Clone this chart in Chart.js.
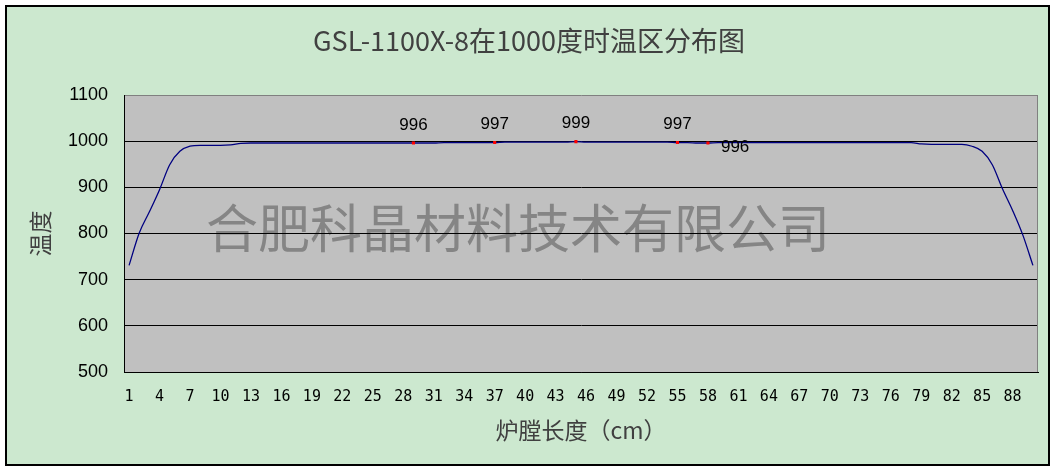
<!DOCTYPE html>
<html>
<head>
<meta charset="utf-8">
<script src="https://cdn.jsdelivr.net/npm/chart.js@4/dist/chart.umd.min.js"></script>
<style>
  body { margin: 0; background: #fff; }
  canvas { display: block; }
</style>
</head>
<body>
<canvas id="myChart" width="1058" height="472"></canvas>
<script>
const xLabels = ["1","2","3","4","5","6","7","8","9","10","11","12","13","14","15","16","17","18","19","20",
  "21","22","23","24","25","26","27","28","29","30","31","32","33","34","35","36","37","38","39","40",
  "41","42","43","44","45","46","47","48","49","50","51","52","53","54","55","56","57","58","59","60",
  "61","62","63","64","65","66","67","68","69","70","71","72","73","74","75","76","77","78","79","80",
  "81","82","83","84","85","86","87","88","89","90"];
const temps = [731, 801, 847, 895, 949, 978, 989, 991, 991, 991,
  992, 995, 996, 996, 996, 996, 996, 996, 996, 996,
  996, 996, 996, 996, 996, 996, 996, 996, 996, 996,
  996, 997, 997, 997, 997, 997, 997, 998, 998, 998,
  998, 998, 998, 998, 999, 998, 998, 998, 998, 998,
  998, 998, 998, 998, 997, 997, 996, 996, 997, 997,
  997, 997, 997, 997, 997, 997, 997, 997, 997, 997,
  997, 997, 997, 997, 997, 997, 997, 997, 994, 993,
  993, 993, 993, 989, 978, 949, 897, 850, 797, 731];
// points that carry a red marker and a value label (0-based index)
const markIdx = [28, 36, 44, 54, 57];
const yTicks = { min: 500, max: 1100, step: 100 };

const cjk = '"Noto Sans CJK SC", sans-serif';

const frame = {
  id: 'frame',
  beforeDraw(chart) {
    const ctx = chart.ctx;
    const a = chart.chartArea;
    ctx.save();
    ctx.fillStyle = '#fff';
    ctx.fillRect(0, 0, chart.width, chart.height);
    ctx.fillStyle = '#CCE8CF';
    ctx.fillRect(6, 6, 1043, 459);
    ctx.strokeStyle = '#000';
    ctx.lineWidth = 2;
    ctx.strokeRect(6, 6, 1043, 459);
    ctx.fillStyle = '#C0C0C0';
    ctx.fillRect(a.left, a.top, a.right - a.left, a.bottom - a.top);
    // watermark
    ctx.font = '52px ' + cjk;
    ctx.fillStyle = '#858585';
    ctx.textAlign = 'center';
    ctx.textBaseline = 'middle';
    ctx.fillText('合肥科晶材料技术有限公司', 518, 228);
    ctx.restore();
  },
  beforeDatasetsDraw(chart) {
    const ctx = chart.ctx;
    const a = chart.chartArea;
    ctx.save();
    ctx.strokeStyle = '#808080';
    ctx.lineWidth = 1;
    ctx.beginPath();
    ctx.moveTo(a.right - 0.5, a.top);
    ctx.lineTo(a.right - 0.5, a.bottom);
    ctx.stroke();
    ctx.restore();
  },
  afterDatasetsDraw(chart) {
    const ctx = chart.ctx;
    const meta = chart.getDatasetMeta(0);
    ctx.save();
    ctx.font = '17px "Liberation Sans", Arial, sans-serif';
    ctx.fillStyle = '#000';
    ctx.textBaseline = 'middle';
    markIdx.forEach((i, k) => {
      const p = meta.data[i];
      const txt = String(temps[i]);
      if (k === markIdx.length - 1) {
        ctx.textAlign = 'left';
        ctx.fillText(txt, p.x + 13, p.y + 4);
      } else {
        ctx.textAlign = 'center';
        ctx.fillText(txt, p.x, p.y - 18);
      }
    });
    ctx.restore();
  }
};

new Chart('myChart', {
  type: 'line',
  data: {
    labels: xLabels,
    datasets: [{
      data: temps,
      borderColor: '#000080',
      borderWidth: 1.3,
      cubicInterpolationMode: 'monotone',
      pointStyle: 'rect',
      pointRadius: c => markIdx.includes(c.dataIndex) ? 2.2 : 0,
      pointBackgroundColor: '#FF0000',
      pointBorderWidth: 0,
      fill: false
    }]
  },
  options: {
    responsive: false,
    animation: false,
    devicePixelRatio: 1,
    layout: { padding: 0 },
    plugins: {
      legend: { display: false },
      tooltip: { enabled: false },
      title: {
        display: true,
        text: 'GSL-1100X-8在1000度时温区分布图',
        color: '#404040',
        font: { family: cjk, size: 27, weight: 'normal' },
        padding: { top: 25, bottom: 37.6 }
      }
    },
    scales: {
      x: {
        offset: true,
        grid: { display: false, drawTicks: false },
        border: { display: true, color: '#000', width: 1 },
        ticks: {
          autoSkip: false,
          maxRotation: 0,
          padding: 16,
          color: '#000',
          font: { family: '"DejaVu Sans Mono", monospace', size: 15 },
          callback: (v, i) => i % 3 === 0 ? xLabels[i] : ''
        },
        title: {
          display: true,
          text: '炉膛长度（cm）',
          color: '#404040',
          font: { family: cjk, size: 23 },
          padding: { top: 0, bottom: 28 }
        },
        afterFit: s => { s.height = 100; }
      },
      y: {
        min: yTicks.min,
        max: yTicks.max,
        grid: {
          drawTicks: false,
          color: c => c.tick.value === yTicks.max ? '#808080' : '#000',
          lineWidth: 1
        },
        border: { display: true, color: '#000', width: 1 },
        ticks: {
          stepSize: yTicks.step,
          padding: 16,
          color: '#000',
          font: { family: '"Liberation Sans", Arial, sans-serif', size: 18 },
          callback: v => String(v)
        },
        title: {
          display: true,
          text: '温度',
          color: '#404040',
          font: { family: cjk, size: 23 },
          padding: { top: 26, bottom: 0 }
        },
        afterFit: s => { s.width = 124; }
      },
      // empty right-hand strip so the title stays centred on the full width
      yRight: {
        position: 'right',
        display: true,
        grid: { display: false, drawTicks: false },
        border: { display: false },
        ticks: { display: false },
        afterFit: s => { s.width = 20; }
      }
    }
  },
  plugins: [frame]
});
</script>
</body>
</html>
